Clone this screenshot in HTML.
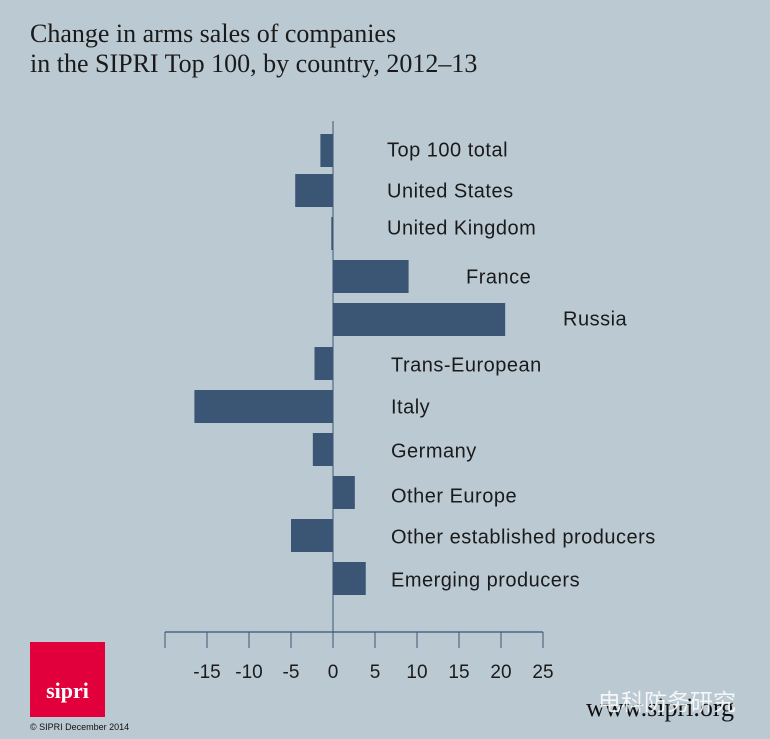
<!DOCTYPE html>
<html><head><meta charset="utf-8"><style>
body{margin:0;background:#bbc9d3;}
#c{position:relative;width:770px;height:739px;background:#bbc9d3;overflow:hidden;font-family:"Liberation Sans",sans-serif;}
.t{position:absolute;left:30px;top:19px;font-family:"Liberation Serif",serif;font-size:26px;line-height:30px;color:#1a1a1a;}
</style></head><body>
<div id="c">
<div class="t">Change in arms sales of companies<br>in the SIPRI Top 100, by country, 2012–13</div>
<svg id="s" width="770" height="739" style="position:absolute;left:0;top:0"></svg>
<div style="position:absolute;left:30px;top:642px;width:75px;height:75px;background:#e2003c;color:#fff;font-family:'Liberation Serif',serif;font-weight:bold;font-size:22px;text-align:center;line-height:98px;">sipri</div>
<div style="position:absolute;left:30px;top:722px;font-size:9px;color:#111;">© SIPRI December 2014</div>
<div style="position:absolute;left:586px;top:693px;font-family:'Liberation Serif',serif;font-size:26px;color:#111;">www.sipri.org</div>
<div style="position:absolute;left:598px;top:683px;font-family:'Liberation Sans','Noto Sans CJK SC',sans-serif;font-size:23px;color:#fff;opacity:.85;">电科防务研究</div>
</div>
<script>
const categories=["Top 100 total","United States","United Kingdom","France","Russia","Trans-European","Italy","Germany","Other Europe","Other established producers","Emerging producers"];
const values=[-1.5,-4.5,-0.2,9,20.5,-2.2,-16.5,-2.4,2.6,-5,3.9];
const tickValues=[-20,-15,-10,-5,0,5,10,15,20,25];
const tickLabels=["","-15","-10","-5","0","5","10","15","20","25"];
const barTops=[134,174,217,260,303,347,390,433,476,519,562];
const labelX=[387,387,387,466,563,391,391,391,391,391,391];
const labelY=[151,192,229,278,320,366,408,452,497,538,581];
const NS="http://www.w3.org/2000/svg",s=document.getElementById('s');
const x=v=>333+v*8.4;
function mk(t,a){const e=document.createElementNS(NS,t);for(const k in a)e.setAttribute(k,a[k]);s.appendChild(e);return e;}
values.forEach((v,i)=>{
 const r=mk('rect',{x:Math.min(x(0),x(v)),y:barTops[i],width:Math.max(1,Math.abs(x(v)-x(0))),height:33,fill:'#3b5675'});
 
 
 const t=mk('text',{x:labelX[i],y:labelY[i],'font-size':20,'letter-spacing':0.5,fill:'#1a1a1a','dominant-baseline':'middle'});
 t.textContent=categories[i];
 
 
});
const ax=mk('line',{x1:333,y1:121,x2:333,y2:632,stroke:'#3b5675','stroke-width':1});

const xa=mk('line',{x1:x(-20),y1:632,x2:x(25),y2:632,stroke:'#3b5675','stroke-width':1.2});

tickValues.forEach((v,i)=>{
 const l=mk('line',{x1:x(v),y1:632,x2:x(v),y2:648,stroke:'#3b5675','stroke-width':1});
 
 const t=mk('text',{x:x(v),y:673,'font-size':19,fill:'#1a1a1a','text-anchor':'middle','dominant-baseline':'middle'});
 t.textContent=tickLabels[i];
 
});
</script>
</body></html>
